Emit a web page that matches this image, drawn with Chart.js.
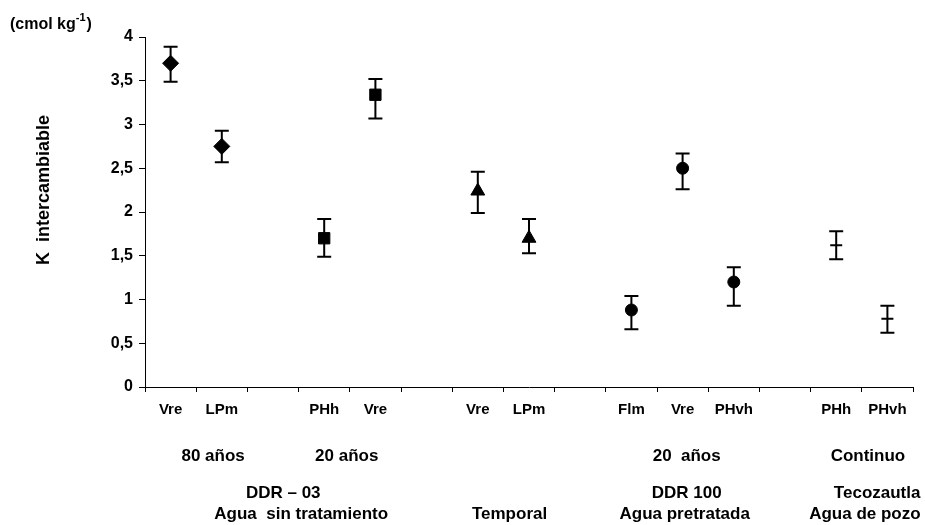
<!DOCTYPE html>
<html>
<head>
<meta charset="utf-8">
<script src="https://cdn.jsdelivr.net/npm/chart.js@4"></script>
<style>
  html, body { margin: 0; padding: 0; background: #fff; }
  #wrap { width: 925px; height: 525px; }
</style>
</head>
<body>
<div id="wrap"><canvas id="kChart" width="925" height="525"></canvas></div>
<script>
// Categories (blank ones are the gaps between groups)
const categories = ['Vre', 'LPm', '', 'PHh', 'Vre', '', 'Vre', 'LPm', '', 'Flm', 'Vre', 'PHvh', '', 'PHh', 'PHvh'];
// K intercambiable (cmol kg-1): mean, lower and upper error bar ends
const kMean = [3.70, 2.75, null, 1.70, 3.34, null, 2.24, 1.70, null, 0.88, 2.50, 1.20, null, 1.62, 0.78];
const kLow  = [3.49, 2.57, null, 1.49, 3.07, null, 1.99, 1.53, null, 0.66, 2.26, 0.93, null, 1.46, 0.62];
const kHigh = [3.89, 2.93, null, 1.92, 3.52, null, 2.46, 1.92, null, 1.04, 2.67, 1.37, null, 1.78, 0.93];
// marker shape for each point
const markers = ['rectRot', 'rectRot', null, 'rect', 'rect', null, 'triangle', 'triangle', null, 'circle', 'circle', 'circle', null, 'line', 'line'];
const yTickLabels = ['0', '0,5', '1', '1,5', '2', '2,5', '3', '3,5', '4'];

// group captions under the axis, three rows
const captionRow1 = ['80 años', '20 años', '20  años', 'Continuo'];
const captionRow2 = ['DDR \u2013 03', 'DDR 100', 'Tecozautla'];
const captionRow3 = ['Agua  sin tratamiento', 'Temporal', 'Agua pretratada', 'Agua de pozo'];

const FONT = '"Liberation Sans", Arial, sans-serif';
const markerSize = { rectRot: 8, rect: 8, triangle: 8, circle: 6, line: 6 };

// where each caption sits, in category units
const row1At = [0.83, 3.44, 10.08, 13.62];
const row2At = [2.2, 10.08, 13.8];
const row3At = [2.55, 6.62, 10.04, 13.56];

const errorBars = {
    id: 'errorBars',
    beforeDatasetsDraw(chart) {
        const c = chart.ctx, x = chart.scales.x, y = chart.scales.y;
        c.save();
        c.strokeStyle = '#000';
        c.lineWidth = 2;
        kMean.forEach((v, i) => {
            if (v === null) return;
            const px = x.getPixelForValue(i);
            const lo = y.getPixelForValue(kLow[i]);
            const hi = y.getPixelForValue(kHigh[i]);
            c.beginPath();
            c.moveTo(px, lo); c.lineTo(px, hi);
            c.moveTo(px - 7, lo); c.lineTo(px + 7, lo);
            c.moveTo(px - 7, hi); c.lineTo(px + 7, hi);
            c.stroke();
        });
        c.restore();
    }
};

const captions = {
    id: 'captions',
    afterDraw(chart) {
        const c = chart.ctx, x = chart.scales.x;
        c.save();
        c.fillStyle = '#000';
        c.textAlign = 'center';
        c.textBaseline = 'middle';
        c.font = 'bold 17px ' + FONT;
        captionRow1.forEach((t, i) => c.fillText(t, x.getPixelForValue(row1At[i]), 456));
        captionRow2.forEach((t, i) => c.fillText(t, x.getPixelForValue(row2At[i]), 493));
        captionRow3.forEach((t, i) => c.fillText(t, x.getPixelForValue(row3At[i]), 514));

        // y axis title
        c.save();
        c.translate(44, 190);
        c.rotate(-Math.PI / 2);
        c.font = 'bold 18px ' + FONT;
        c.fillText('K  intercambiable', 0, 0);
        c.restore();

        // units, top left
        c.textAlign = 'left';
        c.font = 'bold 16px ' + FONT;
        let px = 10;
        c.fillText('(cmol kg', px, 25);
        px += c.measureText('(cmol kg').width;
        c.font = 'bold 11px ' + FONT;
        c.fillText('-1', px, 18);
        px += c.measureText('-1').width;
        c.font = 'bold 16px ' + FONT;
        c.fillText(')', px + 1, 25);
        c.restore();
    }
};

const ctx = document.getElementById('kChart').getContext('2d');
new Chart(ctx, {
    type: 'line',
    data: {
        labels: categories,
        datasets: [{
            data: kMean,
            showLine: false,
            pointStyle: markers.map(m => m || 'circle'),
            pointRadius: markers.map(m => m ? markerSize[m] : 0),
            pointBorderWidth: markers.map(m => m === 'line' ? 2 : 1),
            backgroundColor: '#000',
            borderColor: '#000'
        }]
    },
    options: {
        responsive: false,
        animation: false,
        layout: { padding: { top: 37, right: 12, bottom: 0, left: 0 } },
        plugins: { legend: { display: false }, tooltip: { enabled: false } },
        scales: {
            x: {
                type: 'category',
                offset: true,
                grid: { drawOnChartArea: false, drawTicks: true, tickLength: 5, color: '#000', offset: true },
                border: { display: true, color: '#000', width: 1 },
                ticks: {
                    color: '#000', padding: 9, maxRotation: 0, autoSkip: false,
                    font: { family: FONT, size: 15, weight: 'bold' }
                },
                afterFit(s) { s.height = 138; }
            },
            y: {
                min: 0, max: 4,
                grid: { drawOnChartArea: false, drawTicks: true, tickLength: 6, color: '#000' },
                border: { display: true, color: '#000', width: 1 },
                ticks: {
                    stepSize: 0.5, color: '#000', padding: 6,
                    font: { family: FONT, size: 16, weight: 'bold' },
                    callback: (v, i) => yTickLabels[i]
                },
                afterFit(s) { s.width = 145; }
            }
        }
    },
    plugins: [errorBars, captions]
});
</script>
</body>
</html>
